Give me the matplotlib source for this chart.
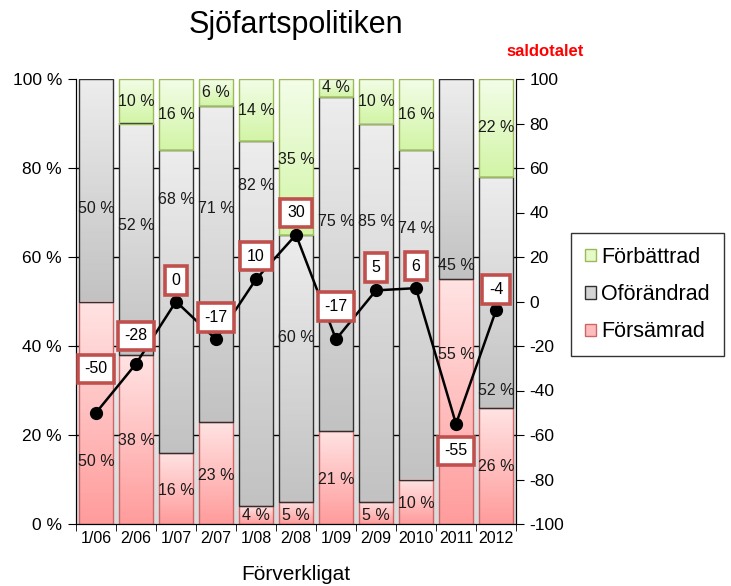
import numpy as np
import matplotlib
matplotlib.use('Agg')
import matplotlib.pyplot as plt
from matplotlib.colors import LinearSegmentedColormap
from matplotlib.patches import Patch

plt.rcParams['font.family'] = ['Liberation Sans', 'DejaVu Sans']
plt.rcParams['axes.unicode_minus'] = False

# data
periods = ['1/06', '2/06', '1/07', '2/07', '1/08', '2/08', '1/09', '2/09', '2010', '2011', '2012']
forsamrad = [50, 38, 16, 23, 4, 5, 21, 5, 10, 55, 26]
oforandrad = [50, 52, 68, 71, 82, 60, 75, 85, 74, 45, 52]
forbattrad = [0, 10, 16, 6, 14, 35, 4, 10, 16, 0, 22]
saldo = [-50, -28, 0, -17, 10, 30, -17, 5, 6, -55, -4]

# where the percent labels sit (left axis units), as in the original layout
pos_red = [14, 18.7, 7.6, 11, 2, 2, 10, 2, 4.7, 38, 13]
pos_grey = [71, 67, 73, 71, 76, 42, 68, 68, 66.5, 58, 30]
pos_green = [0, 95, 92, 97, 93, 82, 98, 95, 92, 0, 89]
# label offsets for the saldo boxes (pixels, + is above the point)
label_off = [44, 28, 21, 22, 23, 22, 33, 23, 22, -27, 21]

fig = plt.figure(figsize=(7.31, 5.86), dpi=100)
ax = fig.add_axes([76 / 731, 62 / 586, 440 / 731, 445 / 586])
x = np.arange(len(periods))

# plot area background, white at the top fading to light grey
bg = LinearSegmentedColormap.from_list('bg', ['#dadada', '#ffffff'])
ax.imshow(np.linspace(0, 1, 100).reshape(-1, 1), extent=[0, 1, 0, 1], origin='lower',
          cmap=bg, aspect='auto', transform=ax.transAxes, zorder=0)

for g in [20, 40, 60, 80]:
    ax.axhline(g, color='black', lw=1, zorder=0.5)


def gradient_bars(bars, c_top, c_bot):
    cmap = LinearSegmentedColormap.from_list('g', [c_bot, c_top])
    grad = np.linspace(0, 1, 64).reshape(-1, 1)
    for p in bars:
        h = p.get_height()
        if h <= 0:
            p.set_visible(False)
            continue
        x0, y0, w = p.get_x(), p.get_y(), p.get_width()
        ax.imshow(grad, extent=[x0, x0 + w, y0, y0 + h], origin='lower', cmap=cmap,
                  aspect='auto', zorder=1.5)


w = 0.83
b1 = ax.bar(x, forsamrad, w, facecolor='none', edgecolor='#cc6666', lw=1, zorder=2)
bottom2 = np.array(forsamrad)
b2 = ax.bar(x, oforandrad, w, bottom=bottom2, facecolor='none', edgecolor='#303030', lw=1, zorder=2)
bottom3 = bottom2 + np.array(oforandrad)
b3 = ax.bar(x, forbattrad, w, bottom=bottom3, facecolor='none', edgecolor='#9bbb59', lw=1, zorder=2)

gradient_bars(b1, '#ffe3e3', '#ff9c9c')
gradient_bars(b2, '#ededed', '#c2c2c2')
gradient_bars(b3, '#f3fde8', '#d2f5a6')

# percent labels inside the segments
for vals, pos in [(forsamrad, pos_red), (oforandrad, pos_grey), (forbattrad, pos_green)]:
    for xi, v, py in zip(x, vals, pos):
        if v <= 0:
            continue
        ax.text(xi, py, f'{v} %', ha='center', va='center', fontsize=11.5,
                color='#1a1a1a', zorder=3)

ax.set_xlim(-0.5, len(periods) - 0.5)
ax.set_ylim(0, 100)
ax.set_yticks([0, 20, 40, 60, 80, 100])
ax.set_yticklabels(['0 %', '20 %', '40 %', '60 %', '80 %', '100 %'], fontsize=12.5)
ax.set_xticks(x)
ax.set_xticklabels(periods, fontsize=11.5)
ax.set_xticks(np.arange(-0.5, len(periods)), minor=True)
ax.tick_params(axis='x', which='major', length=0, pad=5)
ax.tick_params(axis='x', which='minor', length=5, direction='out')
ax.tick_params(axis='y', length=6, direction='out', pad=4)
ax.spines['top'].set_visible(False)

fig.text(296 / 731, 1 - 25 / 586, 'Sjöfartspolitiken', fontsize=22, ha='center', va='center')
fig.text(296 / 731, 1 - 575 / 586, 'Förverkligat', fontsize=15, ha='center', va='center')

# saldo line on the right axis
ax2 = ax.twinx()
ax2.plot(x, saldo, color='black', lw=1.8, marker='o', markersize=8.5, zorder=4)
ax2.set_ylim(-100, 100)
ax2.set_yticks(np.arange(-100, 101, 20))
ax2.tick_params(axis='y', labelsize=12.5, length=6, direction='out')
ax2.spines['top'].set_visible(False)
for xi, s, off in zip(x, saldo, label_off):
    ax2.annotate(str(s), (xi, s), xytext=(0, off * 0.72), textcoords='offset points',
                 ha='center', va='center', fontsize=11.5, zorder=5,
                 bbox=dict(boxstyle='square,pad=0.42', fc='white', ec='#c0504d', lw=2.6))

fig.text(545 / 731, 1 - 52 / 586, 'saldotalet', color='#ff0000', fontsize=12,
         fontweight='bold', ha='center', va='center')

handles = [Patch(facecolor='#e6f9c8', edgecolor='#9bbb59', label='Förbättrad'),
           Patch(facecolor='#d4d4d4', edgecolor='#303030', label='Oförändrad'),
           Patch(facecolor='#ffbcbc', edgecolor='#cc6666', label='Försämrad')]
leg = fig.legend(handles=handles, loc='upper left', bbox_to_anchor=(571 / 731, 1 - 233 / 586),
                 fontsize=15.5, frameon=True, fancybox=False, edgecolor='black',
                 handlelength=0.5, handleheight=0.5, handletextpad=0.25,
                 labelspacing=0.75, borderpad=0.65, borderaxespad=0)
leg.get_frame().set_linewidth(1)

plt.savefig('out.png', dpi=100)
plt.close(fig)
